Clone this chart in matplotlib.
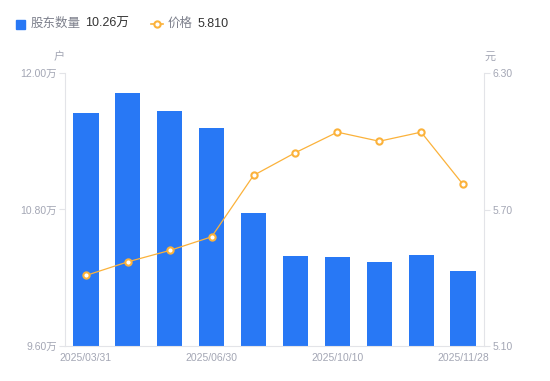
import matplotlib.pyplot as plt
import numpy as np

plt.rcParams['font.family'] = ['Liberation Sans', 'Noto Sans CJK SC', 'DejaVu Sans']

dates = ['2025/03/31', '2025/04/30', '2025/05/30', '2025/06/30', '2025/07/31',
         '2025/09/19', '2025/10/10', '2025/10/20', '2025/10/31', '2025/11/28']
holders = [11.65, 11.82, 11.67, 11.52, 10.77, 10.39, 10.38, 10.34, 10.40, 10.26]
price = [5.41, 5.47, 5.52, 5.58, 5.85, 5.95, 6.04, 6.00, 6.04, 5.81]

left_ticks = [9.60, 10.80, 12.00]
right_ticks = [5.10, 5.70, 6.30]

blue = '#2878f5'
orange = '#fbb23b'
grey = '#a3a6b4'
axis_col = '#e3e4e8'

fig = plt.figure(figsize=(5.5, 3.81), dpi=100)
ax = fig.add_axes([65 / 550, 35 / 381, 419 / 550, 273 / 381])
x = np.arange(len(dates))

ax.bar(x, holders, width=0.6, color=blue, zorder=2)
ax.set_xlim(-0.5, len(dates) - 0.5)
ax.set_ylim(left_ticks[0], left_ticks[-1])
ax.set_yticks(left_ticks)
ax.set_yticklabels(['%.2f万' % v for v in left_ticks])
ax.set_xticks(x[::3])
ax.set_xticklabels(dates[::3])

ax2 = ax.twinx()
ax2.plot(x, price, color=orange, lw=0.9, marker='o', ms=4.5, mfc='white',
         mec=orange, mew=1.5, zorder=3)
ax2.set_ylim(right_ticks[0], right_ticks[-1])
ax2.set_yticks(right_ticks)
ax2.set_yticklabels(['%.2f' % v for v in right_ticks])

for a in (ax, ax2):
    for s in a.spines.values():
        s.set_visible(False)
    a.tick_params(colors=grey, labelsize=7.5, length=4, width=0.8, color=axis_col, pad=2)
ax.spines['left'].set_visible(True)
ax.spines['left'].set_color(axis_col)
ax.spines['bottom'].set_visible(True)
ax.spines['bottom'].set_color(axis_col)
ax2.spines['right'].set_visible(True)
ax2.spines['right'].set_color(axis_col)
ax.tick_params(axis='x', length=0, pad=5)

fig.text(59 / 550, 1 - 57 / 381, '户', color=grey, fontsize=8, ha='center', va='center')
fig.text(490 / 550, 1 - 57 / 381, '元', color=grey, fontsize=8, ha='center', va='center')

# legend
ly = 1 - 24 / 381
fig.patches.append(plt.Rectangle((16 / 550, ly - 4.5 / 381), 9 / 550, 9 / 381,
                                 transform=fig.transFigure, color=blue))
fig.text(31 / 550, ly, '股东数量', color='#7d808c', fontsize=9, va='center')
fig.text(85 / 550, ly, '10.26万', color='#333333', fontsize=9, va='center')
fig.lines.append(plt.Line2D([151 / 550, 163 / 550], [ly, ly], transform=fig.transFigure,
                            color=orange, lw=1.2))
fig.lines.append(plt.Line2D([157 / 550], [ly], transform=fig.transFigure, color=orange,
                            marker='o', ms=4.5, mfc='white', mec=orange, mew=1.5))
fig.text(168 / 550, ly, '价格', color='#7d808c', fontsize=9, va='center')
fig.text(198 / 550, ly, '5.810', color='#333333', fontsize=9, va='center')

fig.savefig('out.png', dpi=100)
